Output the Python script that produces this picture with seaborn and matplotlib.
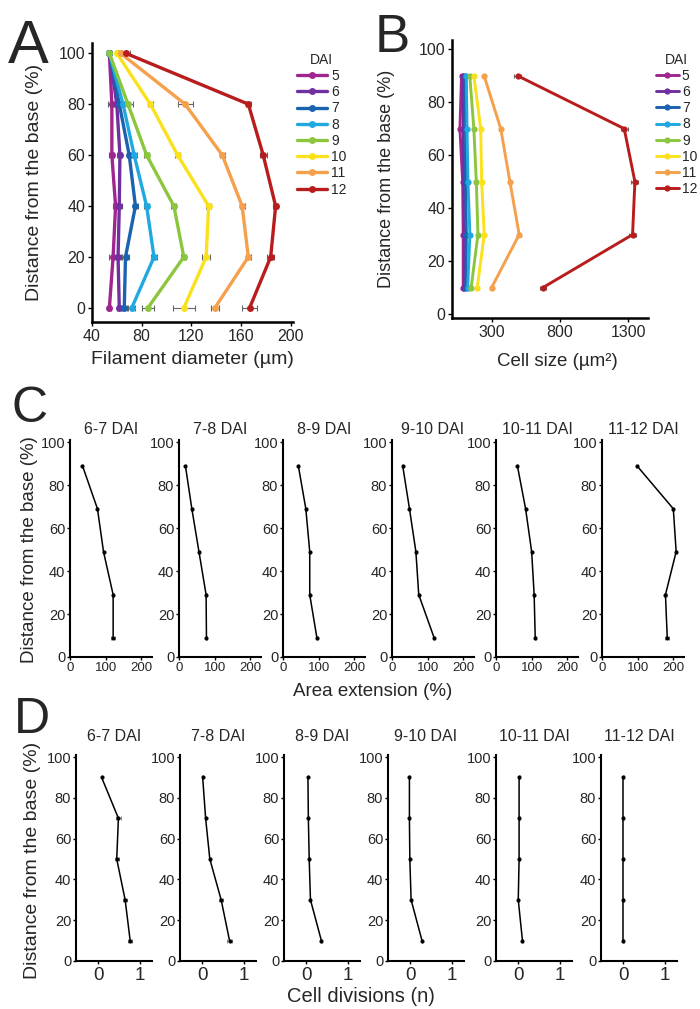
import matplotlib
matplotlib.use('agg')
import matplotlib.pyplot as plt
from matplotlib import font_manager
import seaborn as sns
import pandas as pd

# ---- data ----
dai = [5, 6, 7, 8, 9, 10, 11, 12]
dai_colors = ['#A0268F', '#7030A0', '#1B62B0', '#20A8E0',
              '#8CC63F', '#FBE11B', '#F5A04C', '#B81C1C']

# A: filament diameter (um) at distance from base 0..100 %
a_pos = [0, 20, 40, 60, 80, 100]
a_diam = {
    5: [54, 57, 59, 56, 56, 54],
    6: [62, 61, 62, 62.5, 60, 54],
    7: [66, 67, 75, 70, 62, 54],
    8: [72, 90, 84, 74, 65, 54],
    9: [85, 114, 106, 84, 69, 54],
    10: [114, 132, 134, 109, 87, 60],
    11: [139, 166, 161, 145, 115, 63],
    12: [167, 184, 188, 178, 166, 67],
}
a_err = {
    5: [1.5, 3, 2, 2, 3, 1],
    6: [1.5, 2, 2, 2, 2, 1],
    7: [2, 3, 2, 2, 3, 1],
    8: [3, 2.5, 2, 2.5, 3, 1],
    9: [5, 2, 2, 2, 4, 1],
    10: [9, 3, 2, 2, 2, 1],
    11: [3, 2, 2, 2, 6, 1],
    12: [6, 3, 2, 3, 2, 4],
}

# B: cell size (um2)
b_pos = [10, 30, 50, 70, 90]
b_size = {
    5: [92, 92, 88, 68, 80],
    6: [100, 100, 96, 92, 92],
    7: [112, 115, 110, 110, 104],
    8: [125, 141, 127, 120, 115],
    9: [150, 200, 188, 170, 140],
    10: [195, 246, 227, 220, 170],
    11: [300, 502, 434, 367, 245],
    12: [676, 1332, 1349, 1271, 490],
}
b_err = {5: 8, 6: 8, 7: 8, 8: 8, 9: 8, 10: 10, 11: 10, 12: 25}

intervals = ['6-7 DAI', '7-8 DAI', '8-9 DAI', '9-10 DAI', '10-11 DAI', '11-12 DAI']

# C: area extension (%)
c_pos = [9, 29, 49, 69, 89]
c_ext = [
    [121, 121, 94, 77, 35],
    [77, 76, 56, 36, 18],
    [95, 75, 75, 64, 43],
    [118, 75, 67, 49, 30],
    [110, 107, 100, 83, 60],
    [183, 178, 208, 200, 98],
]
c_err = [
    [5, 2, 2, 2, 1],
    [2, 2, 2, 2, 1],
    [2, 2, 2, 2, 1],
    [2, 2, 2, 2, 1],
    [2, 2, 2, 2, 1],
    [6, 3, 3, 3, 2],
]

# D: cell divisions (n)
d_pos = [10, 30, 50, 70, 90]
d_div = [
    [0.76, 0.64, 0.44, 0.48, 0.08],
    [0.65, 0.45, 0.18, 0.08, 0.01],
    [0.36, 0.10, 0.07, 0.05, 0.04],
    [0.28, 0.02, -0.01, -0.02, -0.02],
    [0.10, 0.00, 0.02, 0.02, 0.02],
    [0.0, 0.0, 0.0, 0.0, 0.0],
]
d_err = [
    [0.05, 0.05, 0.05, 0.05, 0.0],
    [0.06, 0.04, 0.02, 0.01, 0.01],
    [0.01, 0.01, 0.01, 0.01, 0.01],
    [0.01, 0.01, 0.01, 0.01, 0.01],
    [0.01, 0.01, 0.01, 0.01, 0.01],
    [0.01, 0.01, 0.01, 0.01, 0.01],
]

# ---- style ----
sns.set_theme(style='ticks')
plt.rcParams['font.family'] = ['Liberation Sans', 'DejaVu Sans']
installed = {f.name for f in font_manager.fontManager.ttflist}
narrow = 'Liberation Sans Narrow' if 'Liberation Sans Narrow' in installed else 'Liberation Sans'

W, H = 700, 1009
fig = plt.figure(figsize=(7, 10.09), dpi=100)


def rect(x0, y0, x1, y1):
    # pixel box -> figure fraction
    return [x0 / W, 1 - y1 / H, (x1 - x0) / W, (y1 - y0) / H]


def style_axes(ax, lw=1.8):
    sns.despine(ax=ax)
    for s in ['left', 'bottom']:
        ax.spines[s].set_linewidth(lw)
        ax.spines[s].set_color('black')
    ax.tick_params(length=3, width=1, color='black', pad=2)


def long_frame(values, pos):
    rows = []
    for d in dai:
        for p, v in zip(pos, values[d]):
            rows.append({'DAI': str(d), 'pos': p, 'val': v})
    return pd.DataFrame(rows)


palette = {str(d): c for d, c in zip(dai, dai_colors)}

# ---- A ----
axA = fig.add_axes(rect(92, 43, 293, 322))
dfA = long_frame(a_diam, a_pos)
for d in dai:
    axA.errorbar(a_diam[d], a_pos, xerr=a_err[d], fmt='none', ecolor='#666666',
                 elinewidth=0.8, capsize=2, capthick=0.8, zorder=1)
sns.lineplot(data=dfA, x='val', y='pos', hue='DAI', palette=palette, marker='o',
             markersize=5, markeredgewidth=0, linewidth=2.4, sort=False,
             orient='y', estimator=None, ax=axA)
axA.set_xlim(40, 202)
axA.set_ylim(-5.5, 104)
axA.set_xticks([40, 80, 120, 160, 200])
axA.set_yticks([0, 20, 40, 60, 80, 100])
axA.tick_params(labelsize=11.5)
axA.set_xlabel('Filament diameter (\u00b5m)', fontsize=14)
axA.set_ylabel('Distance from the base (%)', fontsize=14)
axA.xaxis.set_label_coords(0.5, -0.105)
axA.yaxis.set_label_coords(-0.245, 0.5)
style_axes(axA)
sns.move_legend(axA, 'upper left', bbox_to_anchor=(0.99, 0.985), frameon=False,
                title='DAI', fontsize=10, title_fontsize=10, handlelength=2.2,
                labelspacing=0.16, handletextpad=0.3, borderaxespad=0)

# ---- B ----
axB = fig.add_axes(rect(452, 40, 648, 318))
dfB = long_frame(b_size, b_pos)
for d in dai:
    axB.errorbar(b_size[d], b_pos, xerr=b_err[d], fmt='none', ecolor='#666666',
                 elinewidth=0.8, capsize=1.5, capthick=0.8, zorder=1)
sns.lineplot(data=dfB, x='val', y='pos', hue='DAI', palette=palette, marker='o',
             markersize=4.5, markeredgewidth=0, linewidth=2.1, sort=False,
             orient='y', estimator=None, ax=axB)
axB.set_xlim(10, 1445)
axB.set_ylim(-1.5, 103.5)
axB.set_xticks([300, 800, 1300])
axB.set_yticks([0, 20, 40, 60, 80, 100])
axB.tick_params(labelsize=11.5)
axB.set_xlabel('Cell size (\u00b5m\u00b2)', fontsize=13.5)
axB.set_ylabel('Distance from the base (%)', fontsize=13)
axB.xaxis.set_label_coords(0.54, -0.127)
axB.yaxis.set_label_coords(-0.29, 0.5)
style_axes(axB)
sns.move_legend(axB, 'upper left', bbox_to_anchor=(1.01, 0.975), frameon=False,
                title='DAI', fontsize=10, title_fontsize=10, handlelength=1.7,
                labelspacing=0.16, handletextpad=0.2, borderaxespad=0)

# ---- C ----
c_left = [70, 179, 283, 392, 496, 602]
for i, x0 in enumerate(c_left):
    ax = fig.add_axes(rect(x0, 440, x0 + 82, 657))
    ax.errorbar(c_ext[i], c_pos, xerr=c_err[i], fmt='none', ecolor='#888888',
                elinewidth=0.7, capsize=1.5, capthick=0.7, zorder=1)
    sns.lineplot(x=c_ext[i], y=c_pos, color='black', marker='o', markersize=3,
                 markeredgewidth=0, linewidth=1.1, sort=False, orient='y',
                 estimator=None, ax=ax)
    ax.set_xlim(0, 230)
    ax.set_ylim(0, 101)
    ax.set_xticks([0, 100, 200])
    ax.set_yticks([0, 20, 40, 60, 80, 100])
    for lab in ax.get_yticklabels():
        lab.set_fontfamily(narrow)
        lab.set_fontsize(10.5)
    for lab in ax.get_xticklabels():
        lab.set_fontfamily(narrow)
        lab.set_fontsize(9.5)
    ax.set_title(intervals[i], fontsize=11.5, pad=4, family=narrow)
    style_axes(ax, lw=1.5)
    ax.tick_params(length=2.5, pad=1)

fig.text(373 / W, 1 - 692 / H, 'Area extension (%)', ha='center', va='center', fontsize=13.5)
fig.text(30 / W, 1 - 550 / H, 'Distance from the base (%)', ha='center', va='center',
         rotation=90, fontsize=13.5)

# ---- D ----
d_left = [76, 180, 284, 388, 496, 601]
for i, x0 in enumerate(d_left):
    ax = fig.add_axes(rect(x0, 755, x0 + 76, 961))
    ax.errorbar(d_div[i], d_pos, xerr=d_err[i], fmt='none', ecolor='#888888',
                elinewidth=0.7, capsize=1.5, capthick=0.7, zorder=1)
    sns.lineplot(x=d_div[i], y=d_pos, color='black', marker='o', markersize=3,
                 markeredgewidth=0, linewidth=1.1, sort=False, orient='y',
                 estimator=None, ax=ax)
    ax.set_xlim(-0.53, 1.28)
    ax.set_ylim(0, 101)
    ax.set_xticks([0, 1])
    ax.set_yticks([0, 20, 40, 60, 80, 100])
    for lab in ax.get_yticklabels():
        lab.set_fontfamily(narrow)
        lab.set_fontsize(10.5)
    for lab in ax.get_xticklabels():
        lab.set_fontsize(13.5)
    ax.set_title(intervals[i], fontsize=11.5, pad=10, family=narrow)
    style_axes(ax, lw=1.5)
    ax.tick_params(length=2.5, pad=1)
    ax.tick_params(axis='x', pad=2)

fig.text(361 / W, 1 - 997 / H, 'Cell divisions (n)', ha='center', va='center', fontsize=14.5)
fig.text(33 / W, 1 - 860 / H, 'Distance from the base (%)', ha='center', va='center',
         rotation=90, fontsize=14)

# ---- panel letters ----
fig.text(8 / W, 1 - 63 / H, 'A', fontsize=44, ha='left', va='baseline')
fig.text(375 / W, 1 - 52 / H, 'B', fontsize=38, ha='left', va='baseline')
fig.text(12 / W, 1 - 422 / H, 'C', fontsize=36, ha='left', va='baseline')
fig.text(14 / W, 1 - 733 / H, 'D', fontsize=36, ha='left', va='baseline')

fig.savefig('out.png', dpi=100)
